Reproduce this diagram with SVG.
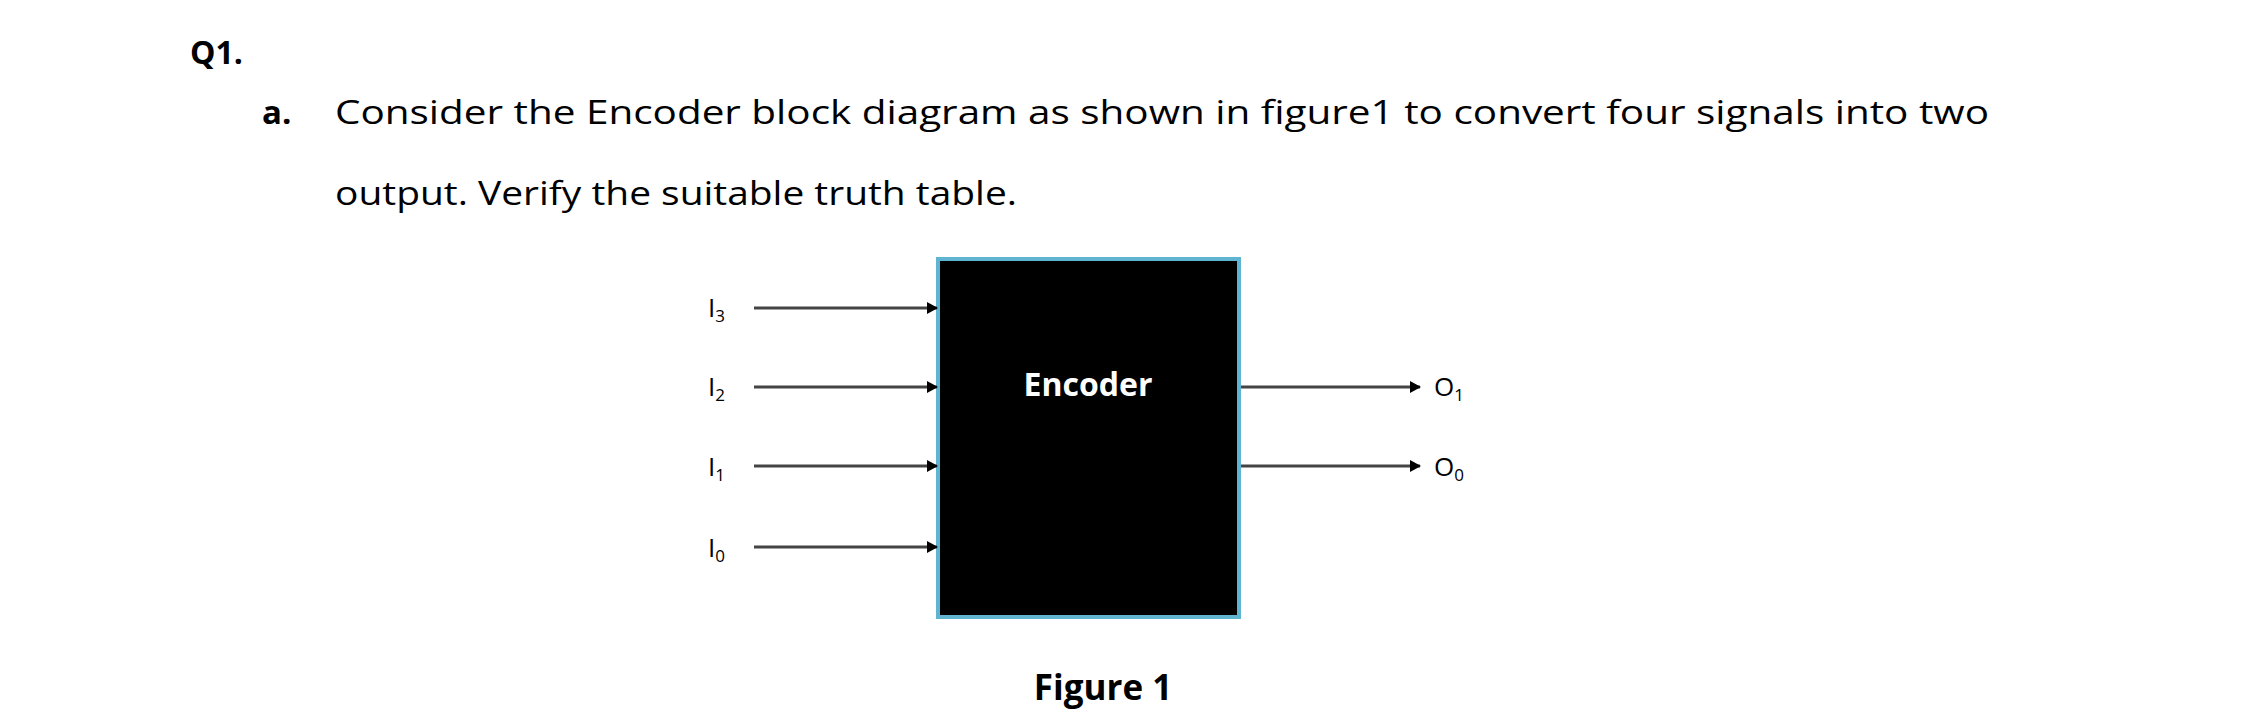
<svg xmlns="http://www.w3.org/2000/svg" width="2244" height="725" viewBox="0 0 2244 725">
<style>
text{font-family:"Open Sans","Liberation Sans",sans-serif;fill:#000}
.b{font-weight:bold}
.t{font-size:33px}
.lbl{font-size:26px}
.sub{font-size:17px}
.w{stroke:#444;stroke-width:3;fill:none;marker-end:url(#ah)}
</style>
<defs><marker id="ah" markerWidth="12" markerHeight="12" refX="10" refY="6" orient="auto" markerUnits="userSpaceOnUse"><path d="M0,0 L11,6 L0,12 Z" fill="#000"/></marker></defs>
<rect width="2244" height="725" fill="#fff"/>
<text x="190" y="64" class="b" font-size="32">Q1.</text>
<text x="262" y="124" class="b t">a.</text>
<text x="335" y="124" class="t" textLength="1654" lengthAdjust="spacingAndGlyphs">Consider the Encoder block diagram as shown in figure1 to convert four signals into two</text>
<text x="335" y="205" class="t" textLength="682" lengthAdjust="spacingAndGlyphs">output. Verify the suitable truth table.</text>
<g id="encoder"><rect x="938" y="259" width="301" height="358" fill="#000" stroke="#5fb4d2" stroke-width="4"/>
<text x="1088" y="396" text-anchor="middle" class="b" font-size="32" fill="#fff" style="fill:#fff">Encoder</text></g>
<g id="labels">
<text x="708" y="317" class="lbl">I<tspan class="sub" dy="5">3</tspan></text>
<text x="708" y="396" class="lbl">I<tspan class="sub" dy="5">2</tspan></text>
<text x="708" y="476" class="lbl">I<tspan class="sub" dy="5">1</tspan></text>
<text x="708" y="557" class="lbl">I<tspan class="sub" dy="5">0</tspan></text>
<text x="1434" y="396" class="lbl">O<tspan class="sub" dy="5">1</tspan></text>
<text x="1434" y="476" class="lbl">O<tspan class="sub" dy="5">0</tspan></text>
</g>
<g id="connectors">
<path class="w" d="M754,308 H937"/>
<path class="w" d="M754,387 H937"/>
<path class="w" d="M754,466 H937"/>
<path class="w" d="M754,547 H937"/>
<path class="w" d="M1241,387 H1420"/>
<path class="w" d="M1241,466 H1420"/>
</g>
<text x="1103" y="700" text-anchor="middle" class="b" font-size="35">Figure 1</text>
</svg>
